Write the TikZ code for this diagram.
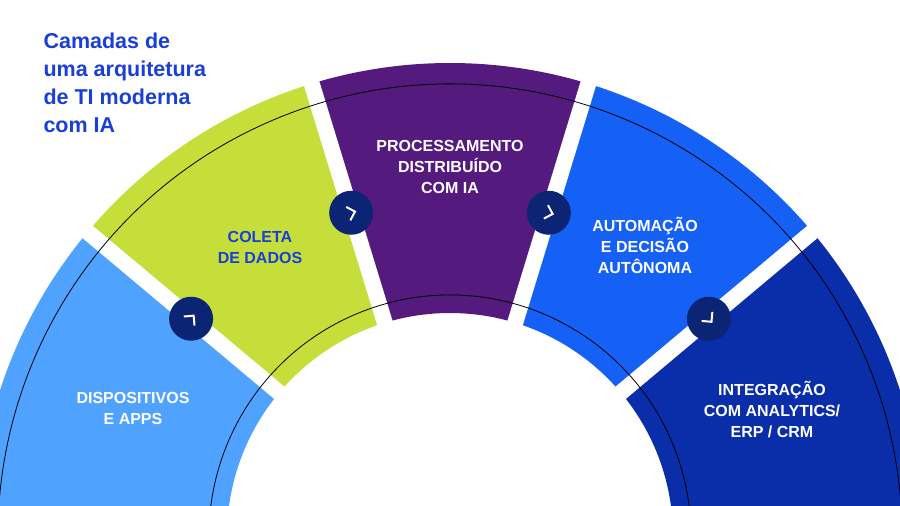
\documentclass[tikz,border=0pt]{standalone}
\usepackage{fontspec}
\setmainfont{Liberation Sans}
\begin{document}
\begin{tikzpicture}[x=1pt,y=1pt,
  lbl/.style={font=\bfseries\fontsize{16}{21}\selectfont,align=center,text=white},
  markerdot/.style={circle,fill=navy,minimum size=44pt,inner sep=0pt}]
\definecolor{c1}{HTML}{4FA3FF}
\definecolor{c2}{HTML}{C5DE3A}
\definecolor{c3}{HTML}{541A7D}
\definecolor{c4}{HTML}{1560F5}
\definecolor{c5}{HTML}{0A2DAA}
\definecolor{navy}{HTML}{0B2574}
\definecolor{ttl}{HTML}{1A3FD8}
\definecolor{thin}{HTML}{C8C8D8}
\useasboundingbox (0,0) rectangle (900,506);
\clip (0,0) rectangle (900,506);
\begin{scope}[shift={(450,-30)}]
\foreach \a/\b/\c in {200/140/c1,140/107/c2,107/73/c3,73/40/c4,40/-20/c5}{
  \fill[\c] (\a:473) arc[start angle=\a,end angle=\b,radius=473] -- (\b:223) arc[start angle=\b,end angle=\a,radius=223] -- cycle;
}
\foreach \a in {140,107,73,40}{
  \draw[white,line width=16pt] (\a:200) -- (\a:490);
}
\draw[thin,line width=0.8pt] (200:452) arc[start angle=200,end angle=-20,radius=452];
\draw[thin,line width=0.8pt] (200:241) arc[start angle=200,end angle=-20,radius=241];
\foreach \a/\n in {140/m1,107/m2,73/m3,40/m4}{
  \node[markerdot] (\n) at (\a:338) {};
  \draw[white,line width=2pt,rotate around={\a-90:(\n.center)}] ([shift={(-3,7)}]\n.center) -- ([shift={(4,0)}]\n.center) -- ([shift={(-3,-7)}]\n.center);
}
\end{scope}
\node[anchor=north west,align=left,text=ttl,font=\fontsize{21.5}{28}\selectfont\bfseries] (title) at (40,477) {Camadas de\\uma arquitetura\\de TI moderna\\com IA};
\node[lbl] (l1) at (133,98) {DISPOSITIVOS\\E APPS};
\node[lbl,text=ttl] (l2) at (260,259) {COLETA\\DE DADOS};
\node[lbl] (l3) at (450,339) {PROCESSAMENTO\\DISTRIBUÍDO\\COM IA};
\node[lbl] (l4) at (645,261) {AUTOMAÇÃO\\E DECISÃO\\AUTÔNOMA};
\node[lbl] (l5) at (772,96) {INTEGRAÇÃO\\COM ANALYTICS/\\ERP / CRM};
\end{tikzpicture}
\end{document}
